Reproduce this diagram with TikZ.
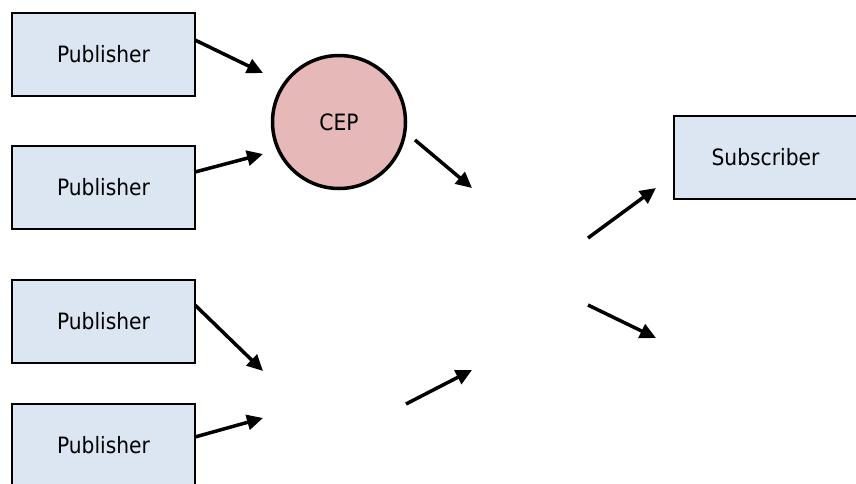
\documentclass[tikz,border=0pt]{standalone}
\usepackage{fontspec}
\setmainfont{DejaVu Sans Condensed}
\usetikzlibrary{arrows.meta}
\definecolor{boxblue}{HTML}{DCE6F2}
\definecolor{ceppink}{HTML}{E6B9B8}
\tikzset{
  pubbox/.style={draw=black, line width=2pt, fill=boxblue, minimum width=183pt, minimum height=83pt, inner sep=0pt, font=\fontsize{22.5}{27}\selectfont},
  cepnode/.style={circle, draw=black, line width=3.5pt, fill=ceppink, minimum size=133pt, inner sep=0pt, font=\fontsize{22.5}{27}\selectfont},
  flow/.style={line width=3.5pt, -{Triangle[length=16pt,width=15pt]}}
}
\begin{document}
\begin{tikzpicture}[x=1pt,y=-1pt]
\clip (0,0) rectangle (856,483);
\useasboundingbox (0,0) rectangle (856,483);
\node[pubbox] (p1) at (103.5,54.5) {Publisher};
\node[pubbox] (p2) at (103.5,187) {Publisher};
\node[pubbox] (p3) at (103.5,321) {Publisher};
\node[pubbox] (p4) at (103.5,445.5) {Publisher};
\node[pubbox] (s1) at (765.5,157.5) {Subscriber};
\node[cepnode] (cep) at (339,122) {CEP};
\coordinate (a1s) at (195,40);
\coordinate (a1e) at (263,73);
\coordinate (a2s) at (195,172);
\coordinate (a2e) at (263,154);
\coordinate (a3s) at (195,305);
\coordinate (a3e) at (263,371);
\coordinate (a4s) at (195,437);
\coordinate (a4e) at (263,418);
\coordinate (a5s) at (415,140);
\coordinate (a5e) at (472,188);
\coordinate (a6s) at (406,404);
\coordinate (a6e) at (472,370);
\coordinate (a7s) at (588,238);
\coordinate (a7e) at (656,188);
\coordinate (a8s) at (588,305);
\coordinate (a8e) at (656,338);
\draw[flow] (a1s) -- (a1e);
\draw[flow] (a2s) -- (a2e);
\draw[flow] (a3s) -- (a3e);
\draw[flow] (a4s) -- (a4e);
\draw[flow] (a5s) -- (a5e);
\draw[flow] (a6s) -- (a6e);
\draw[flow] (a7s) -- (a7e);
\draw[flow] (a8s) -- (a8e);
\end{tikzpicture}
\end{document}
